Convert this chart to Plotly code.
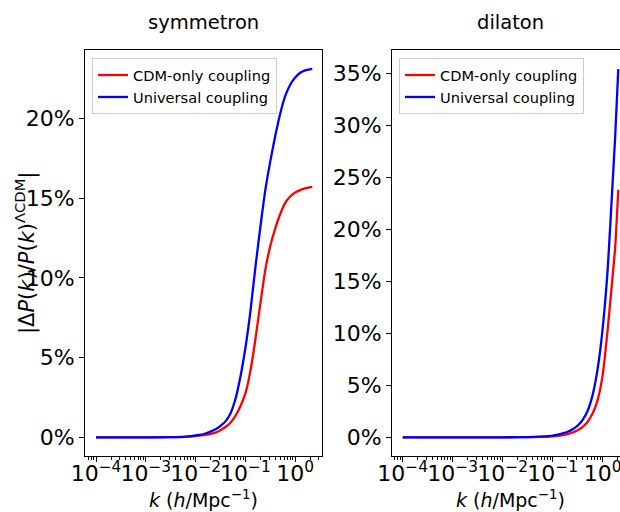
import plotly.graph_objects as go

# ---- data ----
k_sym = [1e-4, 1e-3, 3.2e-3, 6.3e-3, 1e-2, 1.58e-2, 2.51e-2, 3.16e-2, 3.98e-2, 5.01e-2,
         6.31e-2, 7.94e-2, 0.1, 0.126, 0.158, 0.2, 0.251, 0.316, 0.398, 0.501,
         0.631, 0.794, 1.0, 1.26, 1.58, 2.2]
sym_cdm = [0, 0, 0.01, 0.03, 0.08, 0.16, 0.3, 0.45, 0.65, 0.92,
           1.35, 1.95, 2.75, 4.15, 6.1, 8.4, 10.5, 12.0, 13.1, 14.0,
           14.7, 15.1, 15.35, 15.5, 15.6, 15.7]
sym_uni = [0, 0, 0.01, 0.05, 0.12, 0.24, 0.5, 0.72, 1.0, 1.5,
           2.4, 3.8, 5.6, 7.9, 10.6, 13.2, 15.5, 17.3, 18.9, 20.3,
           21.4, 22.1, 22.55, 22.85, 23.0, 23.1]

k_dil = [1e-4, 1e-3, 1e-2, 3.16e-2, 5.6e-2, 0.1, 0.126, 0.158, 0.2, 0.251,
         0.316, 0.398, 0.501, 0.631, 0.794, 1.0, 1.26, 1.58, 1.78, 2.05]
dil_cdm = [0, 0, 0, 0.01, 0.03, 0.09, 0.13, 0.2, 0.31, 0.46,
           0.68, 1.0, 1.5, 2.3, 3.6, 6.0, 10.4, 15.5, 18.3, 23.8]
dil_uni = [0, 0, 0, 0.02, 0.06, 0.15, 0.245, 0.37, 0.53, 0.77,
           1.12, 1.67, 2.55, 4.1, 6.6, 10.5, 16.2, 24.5, 29.0, 35.4]

x_tickvals = [1e-4, 1e-3, 1e-2, 1e-1, 1e0]
x_ticktext = ["10<sup>−4</sup>", "10<sup>−3</sup>", "10<sup>−2</sup>",
              "10<sup>−1</sup>", "10<sup>0</sup>"]
series_names = ["CDM-only coupling", "Universal coupling"]
colors = ["#ff0000", "#0000ff"]
titles = ["symmetron", "dilaton"]

W, H = 620, 512
FONT = "DejaVu Sans"
TICK = dict(size=22, family=FONT, color="black")

fig = go.Figure()
for i, (k, ys) in enumerate([(k_sym, [sym_cdm, sym_uni]), (k_dil, [dil_cdm, dil_uni])]):
    for j, y in enumerate(ys):
        fig.add_trace(go.Scatter(
            x=k, y=y, mode="lines", name=series_names[j],
            line=dict(color=colors[j], width=2.3, shape="spline", smoothing=0.6),
            xaxis="x" if i == 0 else "x2", yaxis="y" if i == 0 else "y2",
            legend="legend" if i == 0 else "legend2",
        ))

ydom = [(H - 456) / H, (H - 50) / H]
common_x = dict(type="log", tickmode="array", tickvals=x_tickvals, ticktext=x_ticktext,
                ticks="outside", ticklen=5, tickwidth=1, tickcolor="black", tickangle=0,
                ticklabeloverflow="allow", ticklabelstandoff=-7,
                showline=True, linecolor="black", linewidth=1, mirror=True,
                showgrid=False, zeroline=False, automargin=False, tickfont=TICK,
                minor=dict(ticks="outside", ticklen=2.5, tickcolor="black", dtick="D1", showgrid=False))
common_y = dict(ticks="outside", ticklen=5, tickwidth=1, tickcolor="black",
                showline=True, linecolor="black", linewidth=1,
                showgrid=False, zeroline=False, automargin=False, tickfont=TICK,
                tickmode="linear", tick0=0, dtick=5, ticksuffix="%")

fig.update_layout(
    width=W, height=H, margin=dict(l=0, r=0, t=0, b=0),
    paper_bgcolor="white", plot_bgcolor="white",
    font=dict(family=FONT, color="black", size=18),
    xaxis=dict(common_x, domain=[85 / W, 322 / W], range=[-4.221, 0.538], anchor="y"),
    yaxis=dict(common_y, domain=ydom, range=[-1.17, 24.28], mirror=True, anchor="x"),
    xaxis2=dict(common_x, domain=[392 / W, 1.0], range=[-4.214, 0.346], anchor="y2"),
    yaxis2=dict(common_y, domain=ydom, range=[-1.80, 37.24], mirror=False, anchor="x2"),
    legend=dict(x=92 / W, y=1 - 58 / H, xanchor="left", yanchor="top",
                bgcolor="white", bordercolor="#cccccc", borderwidth=1,
                font=dict(size=14.6, family=FONT, color="black")),
    legend2=dict(x=399 / W, y=1 - 58 / H, xanchor="left", yanchor="top",
                 bgcolor="white", bordercolor="#cccccc", borderwidth=1,
                 font=dict(size=14.6, family=FONT, color="black")),
    showlegend=True,
)

ann = []
for t, xc in zip(titles, [203.5, 510.5]):
    ann.append(dict(text=t, x=xc / W, y=1 - 22 / H, xref="paper", yref="paper",
                    showarrow=False, xanchor="center", yanchor="middle",
                    font=dict(size=19.5, family=FONT, color="black")))
    ann.append(dict(text="<i>k</i> (<i>h</i>/Mpc<sup>−1</sup>)", x=xc / W, y=1 - 499 / H,
                    xref="paper", yref="paper", showarrow=False,
                    xanchor="center", yanchor="middle",
                    font=dict(size=19, family=FONT, color="black")))
ann.append(dict(text="|Δ<i>P</i>(<i>k</i>)/<i>P</i>(<i>k</i>)<sup>ΛCDM</sup>|",
                x=25 / W, y=1 - 253 / H, xref="paper", yref="paper", showarrow=False,
                textangle=-90, xanchor="center", yanchor="middle",
                font=dict(size=21, family=FONT, color="black")))
fig.update_layout(annotations=ann)

fig.write_html("out.html")
